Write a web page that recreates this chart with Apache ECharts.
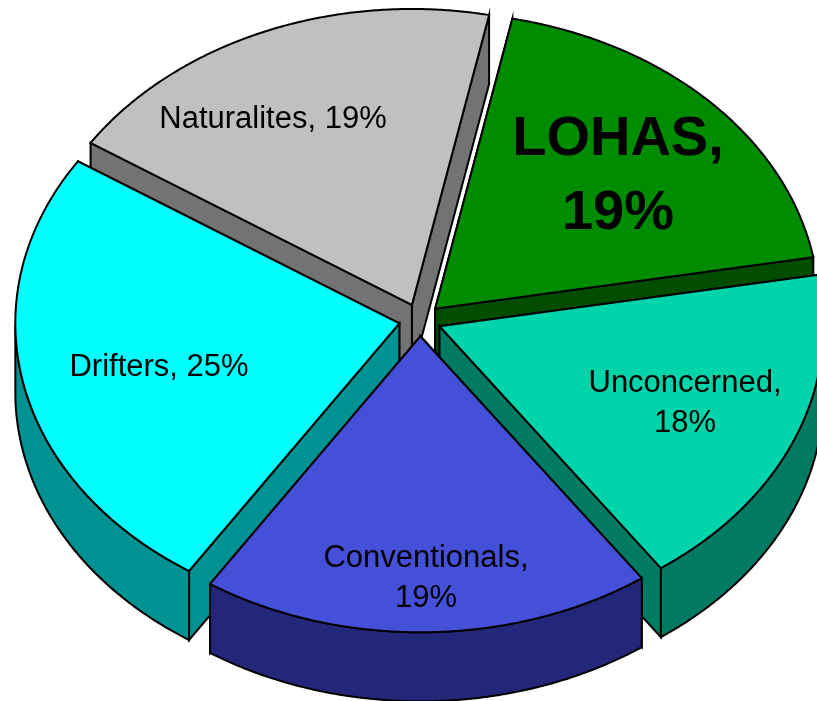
<!DOCTYPE html>
<html>
<head>
<meta charset="utf-8">
<script src="https://cdn.jsdelivr.net/npm/echarts@6/dist/echarts.min.js"></script>
<style>
  html, body { margin: 0; padding: 0; background: #fff; }
  #chart { width: 817px; height: 701px; }
</style>
</head>
<body>
<div id="chart"></div>
<script>
// clockwise from the right edge of Conventionals
const segments = ["Conventionals", "Drifters", "Naturalites", "LOHAS", "Unconcerned"];
const shares = [19, 25, 19, 19, 18];

const topColors = ["#4550d9", "#00ffff", "#c0c0c0", "#008c00", "#00d4aa"];
const wallColors = ["#22277a", "#009292", "#737373", "#004d00", "#007a62"];

// label anchor and text, same order as segments
const labelLines = [["Conventionals,", "19%"], ["Drifters, 25%"], ["Naturalites, 19%"], ["LOHAS,", "19%"], ["Unconcerned,", "18%"]];
const labelX = [426, 159, 273, 618, 685];
const labelY = [578, 367, 119, 177, 403];

// back slices first so the front ones paint over them
const drawOrder = [2, 3, 1, 4, 0];

const centerX = 420;
const centerY = 320;
const radiusX = 384;
const radiusY = 296;
const explode = 0.055;
const depth = 69;
const rotation = (-1 * Math.PI) / 180;
const total = shares.reduce((a, b) => a + b, 0);
const startAngle = -(shares[0] / total) * Math.PI + rotation; // Conventionals sits on the bottom

function slicePath(index) {
  let from = startAngle;
  for (let i = 0; i < index; i++) from += (shares[i] / total) * 2 * Math.PI;
  const sweep = (shares[index] / total) * 2 * Math.PI;
  const mid = from + sweep / 2;
  const tipX = centerX - explode * radiusX * Math.sin(mid);
  const tipY = centerY + explode * radiusY * Math.cos(mid);
  const arc = [];
  const front = []; // part of the rim that faces the viewer
  const steps = 180;
  for (let s = 0; s <= steps; s++) {
    const a = from + (sweep * s) / steps;
    const p = [tipX - radiusX * Math.sin(a), tipY + radiusY * Math.cos(a)];
    arc.push(p);
    if (Math.cos(a) >= 0) front.push(p);
  }
  return { tip: [tipX, tipY], arc, front };
}

const down = (p) => [p[0], p[1] + depth];
const edge = { stroke: "#000", lineWidth: 2, lineJoin: "miter" };

function poly(points, fill, z2) {
  return {
    type: "polygon",
    z2,
    shape: { points },
    style: { fill, ...edge },
  };
}

const chart = echarts.init(document.getElementById("chart"), null, { renderer: "canvas" });

chart.setOption({
  animation: false,
  backgroundColor: "#fff",
  series: [
    {
      type: "custom",
      coordinateSystem: "none",
      data: drawOrder.map((i) => [i, shares[i]]),
      renderItem: function (params, api) {
        const i = api.value(0);
        const { tip, arc, front } = slicePath(i);
        const base = params.dataIndex * 10;
        // the radial side that ends higher up goes behind the other one
        const sides = [arc[0], arc[arc.length - 1]].sort((a, b) => a[1] - b[1]);
        const children = sides.map((end, k) =>
          poly([tip, end, down(end), down(tip)], wallColors[i], base + k)
        );
        if (front.length > 1) {
          children.push(poly(front.concat(front.map(down).reverse()), wallColors[i], base + 2));
        }
        children.push(poly([tip].concat(arc), topColors[i], base + 3));
        const bold = segments[i] === "LOHAS";
        children.push({
          type: "text",
          z2: 100,
          style: {
            x: labelX[i],
            y: labelY[i],
            text: labelLines[i].join("\n"),
            fill: "#000",
            align: "center",
            verticalAlign: "middle",
            font: (bold ? "bold 56px" : "31px") + " 'Liberation Sans', Arial, sans-serif",
            lineHeight: bold ? 74 : 40,
          },
        });
        return { type: "group", children };
      },
    },
  ],
});
</script>
</body>
</html>
